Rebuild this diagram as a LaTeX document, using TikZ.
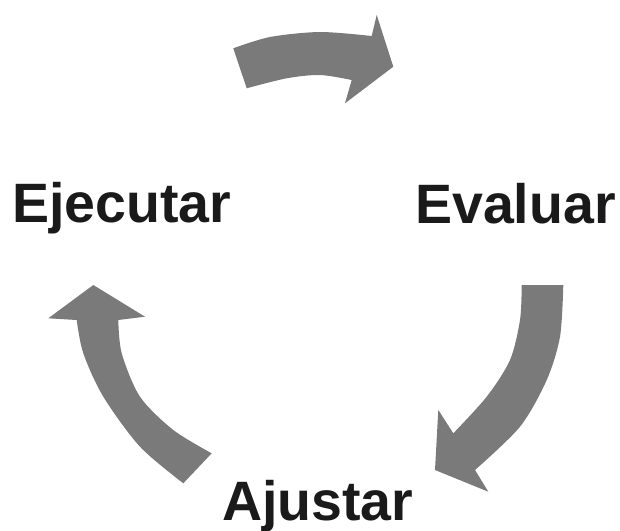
\documentclass[tikz,border=0pt]{standalone}
\usepackage{fontspec}
\setmainfont{Liberation Sans}
\definecolor{arrowgray}{RGB}{122,122,122}
\definecolor{textblack}{RGB}{26,26,26}
\begin{document}
\begin{tikzpicture}[x=1pt,y=-1pt,
  cycarrow/.style={fill=arrowgray},
  cyclabel/.style={inner sep=0pt, anchor=base west, text=textblack,
    font=\fontsize{55.5}{60}\selectfont\bfseries}]
\useasboundingbox (0,0) rectangle (620,530);
% top arrow
\fill[cycarrow] plot[smooth] coordinates {(233.3,48.3) (270,37) (320,32) (371.7,36)}
  -- (376.7,15) -- (393.3,66.7) -- (345,103.3) -- (351.7,80)
  -- plot[smooth] coordinates {(351.7,80) (320,75) (286.7,78.3) (246.7,88.3)} -- cycle;
% right arrow
\fill[cycarrow] plot[smooth] coordinates {(563.3,285) (560,336.7) (546.7,380) (520,426.7) (475,470)}
  -- (488.3,491.7) -- (435,470) -- (438.3,410) -- (453.3,433.3)
  -- plot[smooth] coordinates {(453.3,433.3) (486.7,396.7) (510,360) (520,320) (521.7,285)} -- cycle;
% left arrow
\fill[cycarrow] (93.3,285) -- (145,316.7) -- (118.3,320)
  -- plot[smooth] coordinates {(118.3,320) (121.7,353.3) (140,396.7) (173.3,430) (211.7,453.3)}
  -- (183.3,483.3)
  -- plot[smooth] coordinates {(183.3,483.3) (140,446.7) (103.3,396.7) (83.3,353.3) (76.7,320)}
  -- (48.3,318.3) -- cycle;
% labels
\node[cyclabel] (ejecutar) at (12,222) {Ejecutar};
\node[cyclabel] (evaluar) at (415,223) {Evaluar};
\node[cyclabel] (ajustar) at (222,520) {Ajustar};
\end{tikzpicture}
\end{document}
